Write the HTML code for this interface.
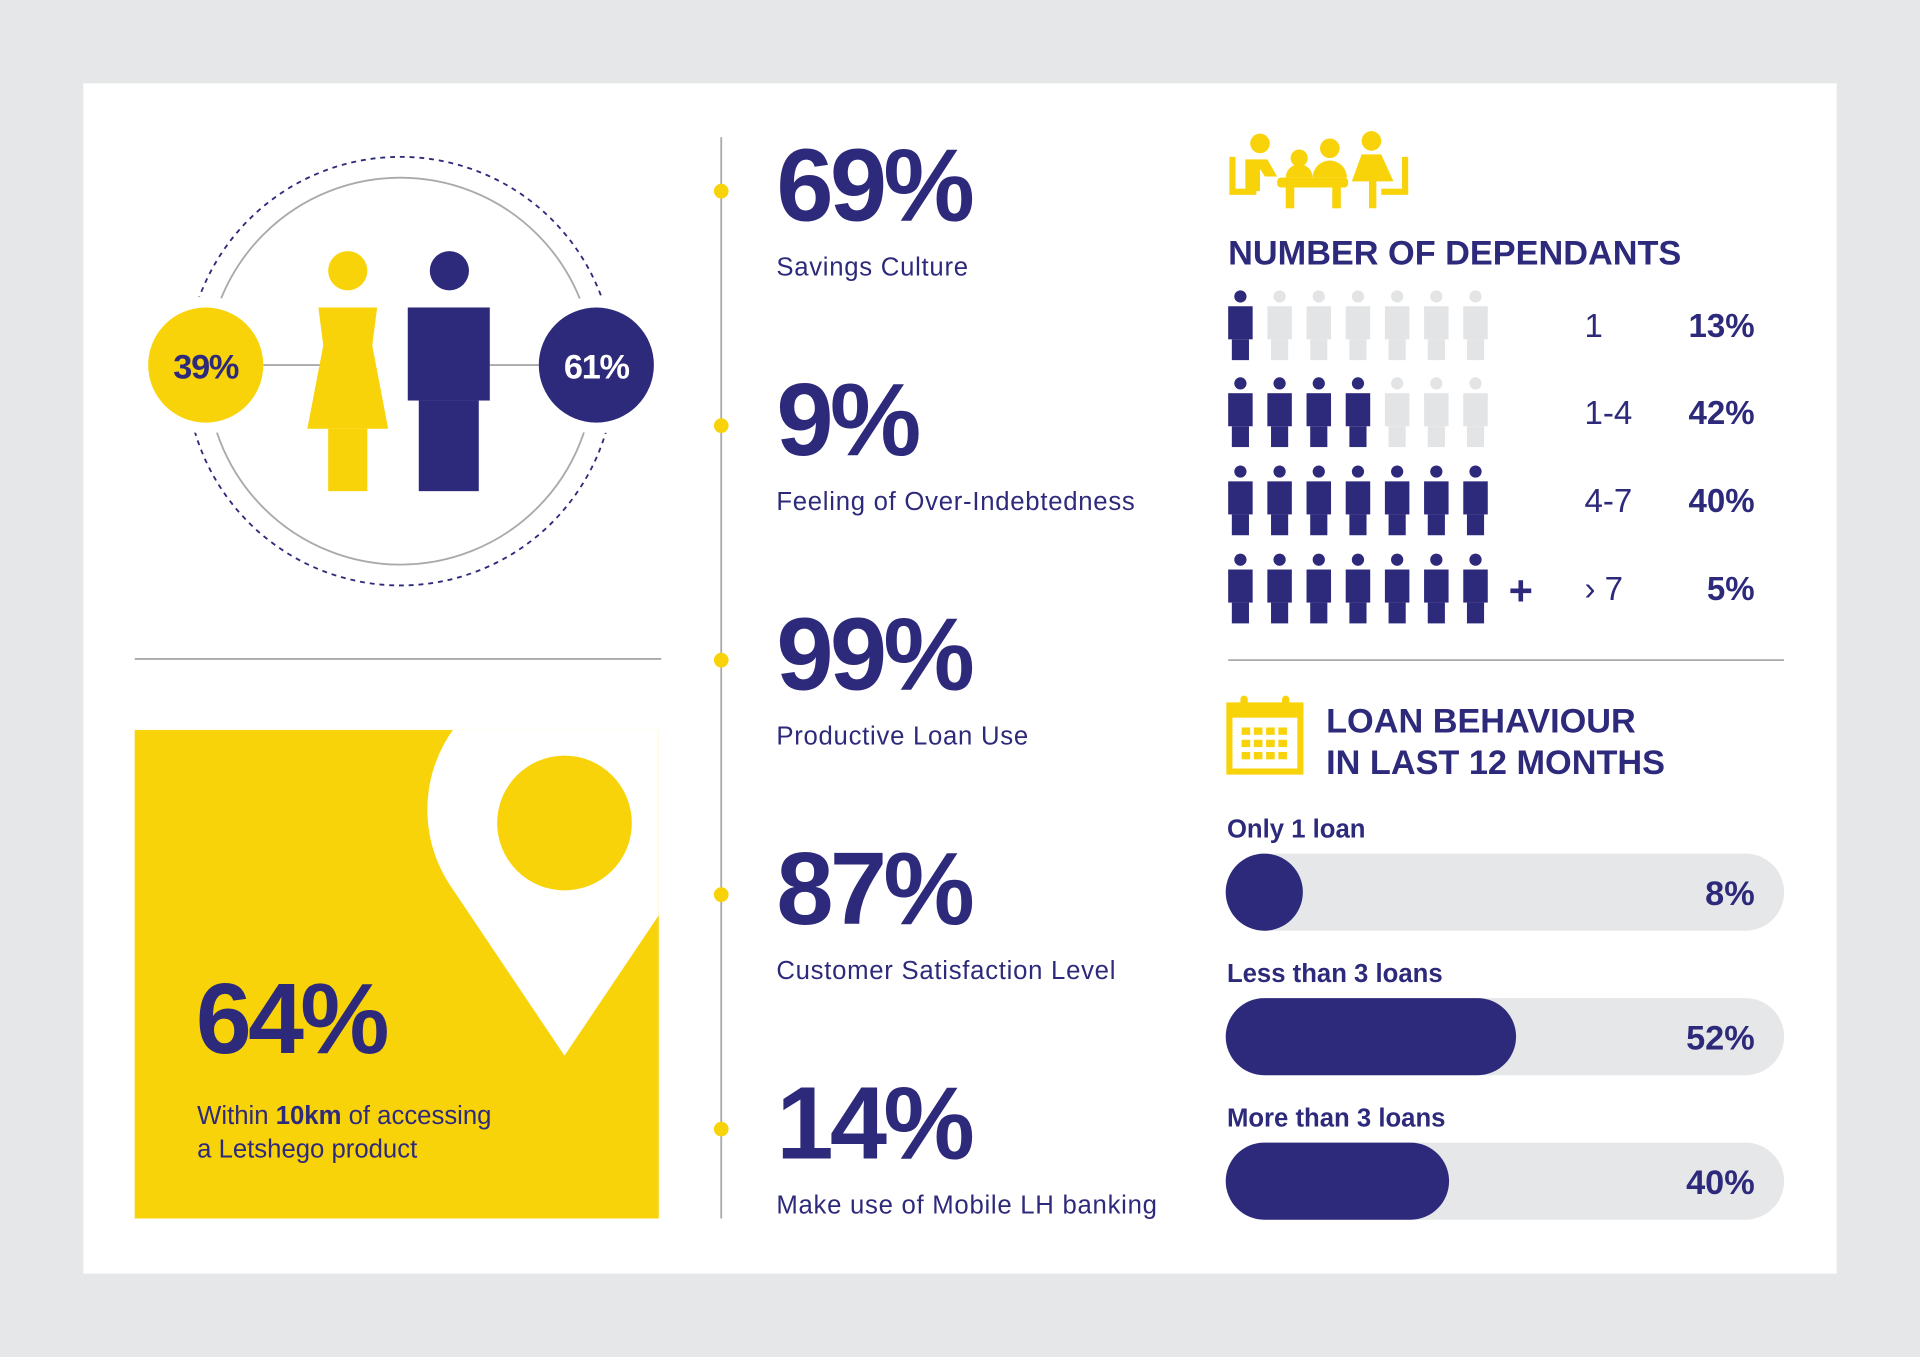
<!DOCTYPE html>
<html><head><meta charset="utf-8"><style>
html,body{margin:0;padding:0;background:#e6e7e9;}
svg{display:block;}
text{font-family:"Liberation Sans",sans-serif;}
</style></head><body>
<svg id="main" width="1920" height="1357" viewBox="0 0 1568 1108" xmlns="http://www.w3.org/2000/svg">
<rect x="0" y="0" width="1568" height="1108" fill="#e6e7e9"/>
<rect x="68" y="68" width="1432" height="972" fill="#fff"/>

<!-- gender section -->
<g>
<circle cx="327" cy="303" r="175" fill="none" stroke="#2e2a7b" stroke-width="1.5" stroke-dasharray="4 4"/>
<circle cx="327" cy="303" r="158" fill="none" stroke="#aaa" stroke-width="1.5"/>
<circle cx="168" cy="298" r="56" fill="#fff"/>
<circle cx="487" cy="298" r="56" fill="#fff"/>
<line x1="215" y1="298" x2="262" y2="298" stroke="#aaa" stroke-width="1.5"/>
<line x1="400" y1="298" x2="440" y2="298" stroke="#aaa" stroke-width="1.5"/>
<circle cx="168" cy="298" r="47" fill="#f9d30a"/>
<text x="168" y="309" text-anchor="middle" font-size="28" font-weight="bold" fill="#2e2a7b" letter-spacing="-1">39%</text>
<circle cx="487" cy="298" r="47" fill="#2e2a7b"/>
<text x="487" y="309" text-anchor="middle" font-size="28" font-weight="bold" fill="#fff" letter-spacing="-1">61%</text>
<g fill="#f9d30a">
<circle cx="284" cy="221" r="16"/>
<polygon points="260,251 308,251 304,282 317,350 251,350 264,282"/>
<rect x="268" y="350" width="32" height="51"/>
</g>
<g fill="#2e2a7b">
<circle cx="367" cy="221" r="16"/>
<rect x="333" y="251" width="67" height="76"/>
<rect x="342" y="327" width="49" height="74"/>
</g>
</g>
<line x1="110" y1="538" x2="540" y2="538" stroke="#aaa" stroke-width="1.5"/>

<!-- location box -->
<defs><clipPath id="boxclip"><rect x="110" y="596" width="428" height="399"/></clipPath></defs>
<g>
<rect x="110" y="596" width="428" height="399" fill="#f9d30a"/>
<g clip-path="url(#boxclip)">
<path d="M461,862 L367,722 A112,112 0 1 1 555,722 Z" fill="#fff"/>
<circle cx="461" cy="672" r="55" fill="#f9d30a"/>
</g>
<text x="160" y="860" font-size="82" font-weight="bold" fill="#2e2a7b" letter-spacing="-3">64%</text>
<text x="161" y="918" font-size="21" fill="#2e2a7b">Within <tspan font-weight="bold">10km</tspan> of accessing</text>
<text x="161" y="945" font-size="21" fill="#2e2a7b">a Letshego product</text>
</g>

<!-- middle stats -->
<line x1="589" y1="112" x2="589" y2="995" stroke="#aaa" stroke-width="1.5"/>
<g id="stats"></g>

<!-- dependants -->
<g fill="#f9d30a">
<circle cx="1029" cy="117" r="8"/><circle cx="1061" cy="129" r="7"/><circle cx="1086" cy="121" r="8"/><circle cx="1120" cy="115" r="8"/>
<rect x="1043" y="145" width="58" height="8" rx="3"/>
<rect x="1050" y="150" width="7" height="20"/><rect x="1088" y="150" width="7" height="20"/>
<path d="M1017,130 h18 l8,14 h-10 l-4,-6 v18 h-12z"/>
<path d="M1050,145 a11,11 0 0 1 22,0z"/><path d="M1072,145 a14,14 0 0 1 28,0z"/>
<path d="M1112,126 h16 l10,22 h-14 v22 h-6 v-22 h-14z"/>
<rect x="1004" y="128" width="5" height="30"/><rect x="1004" y="154" width="22" height="5"/>
<rect x="1145" y="128" width="5" height="30"/><rect x="1128" y="154" width="22" height="5"/>
</g>
<text x="1003" y="216" font-size="28" font-weight="bold" fill="#2e2a7b">NUMBER OF DEPENDANTS</text>
<g id="deps"></g>
<line x1="1003" y1="539" x2="1457" y2="539" stroke="#aaa" stroke-width="1.5"/>

<!-- loans -->
<g>
<rect x="1004" y="576" width="58" height="54" fill="none" stroke="#f9d30a" stroke-width="5"/>
<rect x="1004" y="576" width="58" height="10" fill="#f9d30a"/>
<rect x="1013" y="568" width="6" height="12" rx="3" fill="#f9d30a"/><rect x="1047" y="568" width="6" height="12" rx="3" fill="#f9d30a"/>
<g fill="#f9d30a"><rect x="1014" y="594" width="7" height="6"/><rect x="1024" y="594" width="7" height="6"/><rect x="1034" y="594" width="7" height="6"/><rect x="1044" y="594" width="7" height="6"/>
<rect x="1014" y="604" width="7" height="6"/><rect x="1024" y="604" width="7" height="6"/><rect x="1034" y="604" width="7" height="6"/><rect x="1044" y="604" width="7" height="6"/>
<rect x="1014" y="614" width="7" height="6"/><rect x="1024" y="614" width="7" height="6"/><rect x="1034" y="614" width="7" height="6"/><rect x="1044" y="614" width="7" height="6"/></g>
</g>
<text x="1083" y="598" font-size="28" font-weight="bold" fill="#2e2a7b">LOAN BEHAVIOUR</text>
<text x="1083" y="632" font-size="28" font-weight="bold" fill="#2e2a7b">IN LAST 12 MONTHS</text>
<g id="loans"></g>
</svg>
<script>
const statValues = ["69%", "9%", "99%", "87%", "14%"];
const statLabels = ["Savings Culture", "Feeling of Over-Indebtedness", "Productive Loan Use", "Customer Satisfaction Level", "Make use of Mobile LH banking"];
const depCategories = ["1", "1-4", "4-7", "› 7"];
const depPercents = ["13%", "42%", "40%", "5%"];
const depFilled = [1, 4, 7, 7];
const depPlus = [false, false, false, true];
const loanCategories = ["Only 1 loan", "Less than 3 loans", "More than 3 loans"];
const loanValues = [8, 52, 40];

const NS = "http://www.w3.org/2000/svg";
const NAVY = "#2e2a7b", YEL = "#f9d30a";
function mk(tag, attrs, parent, txt) {
  const e = document.createElementNS(NS, tag);
  for (const k in attrs) e.setAttribute(k, attrs[k]);
  if (txt !== undefined) e.textContent = txt;
  parent.appendChild(e);
  return e;
}
// stats
const stats = document.getElementById("stats");
statValues.forEach((v, i) => {
  const y = 156 + i * 191.5;
  mk("circle", {cx: 589, cy: y, r: 6, fill: YEL}, stats);
  const t = mk("text", {x: 634, y: y + 24, "font-size": 84, "font-weight": "bold", fill: NAVY, "letter-spacing": -3}, stats, v);
  
  
  const l = mk("text", {x: 634, y: y + 69, "font-size": 21, fill: NAVY, "letter-spacing": 0.6}, stats, statLabels[i]);
  
  
});
// dependants
const deps = document.getElementById("deps");
const rowY = [237, 308, 380, 452];
depCategories.forEach((c, r) => {
  const y0 = rowY[r];
  for (let j = 0; j < 7; j++) {
    const cx = 1013 + j * 32;
    const col = j < depFilled[r] ? NAVY : "#e3e4e6";
    const g = mk("g", {fill: col}, deps);
    
    
    mk("circle", {cx: cx, cy: y0 + 5, r: 5}, g);
    mk("rect", {x: cx - 10, y: y0 + 13, width: 20, height: 27}, g);
    mk("rect", {x: cx - 7, y: y0 + 40, width: 14, height: 17}, g);
  }
  if (depPlus[r]) {
    const p = mk("text", {x: 1242, y: y0 + 42, "font-size": 34, "font-weight": "bold", fill: NAVY, "text-anchor": "middle"}, deps, "+");
    
    
  }
  const lt = mk("text", {x: 1294, y: y0 + 38, "font-size": 27, fill: NAVY}, deps, c);
  
  
  const pt = mk("text", {x: 1433, y: y0 + 38, "font-size": 27, "font-weight": "bold", fill: NAVY, "text-anchor": "end"}, deps, depPercents[r]);
  
  
});
// loans
const loans = document.getElementById("loans");
const trackX = 1001, trackW = 456, barH = 63;
function xw(v) { return Math.max(barH, v / 100 * trackW); }
loanCategories.forEach((c, i) => {
  const y = 697 + i * 118;
  const lb = mk("text", {x: 1002, y: y - 13, "font-size": 21, "font-weight": "bold", fill: NAVY}, loans, c);
  
  
  const tr = mk("rect", {x: trackX, y: y, width: trackW, height: barH, rx: barH / 2, fill: "#e6e7e9"}, loans);
  
  
  const b = mk("rect", {x: trackX, y: y, width: xw(loanValues[i]), height: barH, rx: barH / 2, fill: NAVY}, loans);
  
  
  const vt = mk("text", {x: 1433, y: y + 42, "font-size": 28, "font-weight": "bold", fill: NAVY, "text-anchor": "end"}, loans, loanValues[i] + "%");
  
  
});
</script>
</body></html>
